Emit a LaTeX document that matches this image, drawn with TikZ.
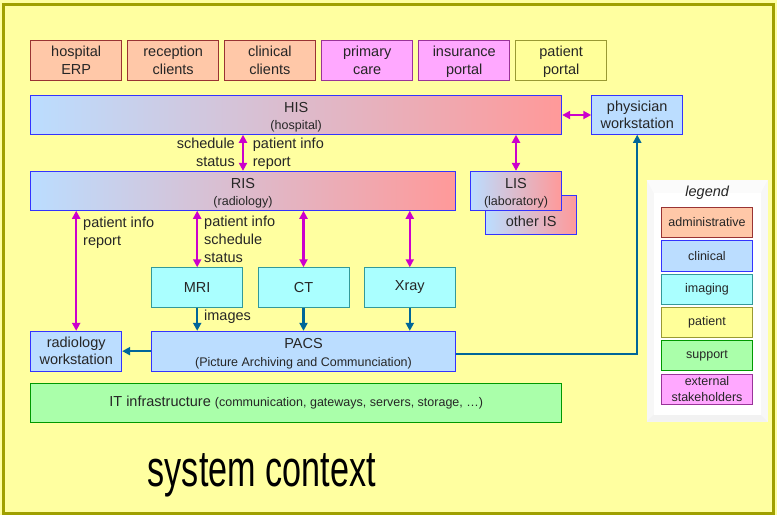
\documentclass[tikz,border=0pt]{standalone}
\usepackage{fontspec}
\setmainfont{Liberation Sans}
\usetikzlibrary{arrows.meta}
\definecolor{bgyellow}{HTML}{FFFFA0}
\definecolor{frameolive}{HTML}{A0A000}
\definecolor{adminfill}{HTML}{FFC8A8}
\definecolor{adminline}{HTML}{993333}
\definecolor{clinfill}{HTML}{BBDDFF}
\definecolor{clinline}{HTML}{3333FF}
\definecolor{imgfill}{HTML}{AAFFFF}
\definecolor{imgline}{HTML}{339999}
\definecolor{patfill}{HTML}{FFFF99}
\definecolor{patline}{HTML}{999933}
\definecolor{supfill}{HTML}{AAFFAA}
\definecolor{supline}{HTML}{009900}
\definecolor{extfill}{HTML}{FFA8FF}
\definecolor{extline}{HTML}{993399}
\definecolor{gradred}{HTML}{FF9999}
\definecolor{flowmag}{HTML}{CC00CC}
\definecolor{flowteal}{HTML}{006699}
\newcommand\smalltxt{\fontsize{12.5}{15}\selectfont}
\newcommand\upstrut{\rule{0pt}{15pt}}
\newcommand\fstrut{\rule{0pt}{13.5pt}}
\newcommand\lstrut{\rule[-3.4pt]{0pt}{3.4pt}}
\newcommand\tl[2]{\fstrut #1\\#2\lstrut}
\newcommand\bx[7]{\node[#6, minimum width={#4-#2}, minimum height={#5-#3}] (#1) at ({(#2+#4)/2},{(#3+#5)/2}) {#7};}
\tikzset{
  box/.style={draw, line width=0.9pt, inner sep=0pt, align=center, text=black!85, font=\fontsize{14.5}{17.5}\selectfont},
  admin/.style={box, fill=adminfill, draw=adminline},
  clin/.style={box, fill=clinfill, draw=clinline},
  img/.style={box, fill=imgfill, draw=imgline},
  pat/.style={box, fill=patfill, draw=patline},
  sup/.style={box, fill=supfill, draw=supline},
  ext/.style={box, fill=extfill, draw=extline},
  grad/.style={box, draw=clinline, left color=clinfill, right color=gradred},
  leg/.style={font=\fontsize{12.5}{16}\selectfont},
  magarrow/.style={draw=flowmag, line width=2.2pt, {Triangle[length=8pt,width=8pt,fill=flowmag]}-{Triangle[length=8pt,width=8pt,fill=flowmag]}},
  tealarrow/.style={draw=flowteal, line width=2.2pt, -{Triangle[length=8pt,width=8pt,fill=flowteal]}},
  lbl/.style={inner sep=0pt, text=black!85, font=\fontsize{14.5}{18}\selectfont},
}
\begin{document}
\begin{tikzpicture}[x=1pt,y=-1pt]
\useasboundingbox (0,0) rectangle (777,515);
\fill[bgyellow] (0,0) rectangle (777,515);
\draw[frameolive, line width=3pt] (3,4) rectangle (773.5,513.5);

% legend panel
\fill[gray!6] (646.7,180) rectangle (767.7,421.7);
\fill[gray!3] (646.7,180) -- (767.7,180) -- (760.7,193) -- (653.7,193) -- cycle;
\fill[gray!10] (646.7,421.7) -- (767.7,421.7) -- (760.7,414.7) -- (653.7,414.7) -- cycle;
\fill[white] (653.7,193) rectangle (760.7,414.7);
\node[lbl, font=\itshape\fontsize{14.5}{17}\selectfont] (legtitle) at (707.2,192.5) {legend};
\bx{lgadmin}{661.3}{207.3}{752.7}{237.7}{admin,leg}{administrative}
\bx{lgclin}{661.3}{240.7}{752.7}{271}{clin,leg}{clinical}
\bx{lgimg}{661.3}{274}{752.7}{304.3}{img,leg}{imaging}
\bx{lgpat}{661.3}{307.3}{752.7}{337.3}{pat,leg}{patient}
\bx{lgsup}{661.3}{340.7}{752.7}{370.7}{sup,leg}{support}
\bx{lgext}{661.3}{374}{752.7}{404}{ext,leg}{external\\stakeholders}

% top row
\bx{erp}{30.7}{40.5}{121.7}{80.3}{admin}{\tl{hospital}{ERP}}
\bx{recep}{127.7}{40.5}{218.7}{80.3}{admin}{\tl{reception}{clients}}
\bx{clinc}{224.3}{40.5}{315.3}{80.3}{admin}{\tl{clinical}{clients}}
\bx{prim}{321.7}{40.5}{412.7}{80.3}{ext}{\tl{primary}{care}}
\bx{ins}{418.7}{40.5}{509.7}{80.3}{ext}{\tl{insurance}{portal}}
\bx{ppt}{515.7}{40.5}{606.7}{80.3}{pat}{\tl{patient}{portal}}

\bx{HIS}{30.7}{95.7}{561.7}{134.3}{grad}{\upstrut HIS\\{\smalltxt (hospital)}}
\bx{phys}{591.7}{95.7}{682.7}{134.3}{clin}{\tl{physician}{workstation}}
\bx{RIS}{30.7}{171.3}{455.3}{210.3}{grad}{\upstrut RIS\\{\smalltxt (radiology)}}
\bx{other}{485.7}{195.3}{576.7}{234.3}{grad,label={[lbl,yshift=-7pt]center:other IS}}{}
\bx{LIS}{470.3}{171.3}{561.7}{210.3}{grad}{\upstrut LIS\\{\smalltxt (laboratory)}}
\bx{MRI}{151.7}{267.7}{242.7}{307.3}{img}{MRI}
\bx{CT}{258}{267.7}{349}{307.3}{img}{CT}
\bx{Xray}{364.3}{267.7}{455.3}{307.3}{img}{Xray\vphantom{M}}
\bx{PACS}{151.7}{331.3}{455.3}{371}{clin}{\upstrut PACS\\{\smalltxt (Picture Archiving and Communciation)}}
\bx{radws}{30.7}{331.3}{121.7}{371}{clin}{\tl{radiology}{workstation}}
\bx{IT}{30.7}{383.3}{561.7}{422.3}{sup}{IT infrastructure {\smalltxt (communication, gateways, servers, storage, …)}}

% connectors
\coordinate (hisris) at (243,0);
\draw[magarrow] (HIS.east) -- (phys.west);
\draw[magarrow] (HIS.south -| hisris) -- (RIS.north -| hisris);
\draw[magarrow] (HIS.south -| LIS.north) -- (LIS.north);
\draw[magarrow] (RIS.south -| radws.north) -- (radws.north);
\draw[magarrow] (RIS.south -| MRI.north) -- (MRI.north);
\draw[magarrow] (RIS.south -| CT.north) -- (CT.north);
\draw[magarrow] (RIS.south -| Xray.north) -- (Xray.north);
\draw[tealarrow] (MRI.south) -- (MRI.south |- PACS.north);
\draw[tealarrow] (CT.south) -- (CT.south |- PACS.north);
\draw[tealarrow] (Xray.south) -- (Xray.south |- PACS.north);
\draw[tealarrow] (PACS.west) -- (radws.east);
\draw[tealarrow] ([yshift=-3pt]PACS.east) -| (phys.south);

% labels (base anchor = baseline of the last line)
\node[lbl, align=right, anchor=base east] (lblA) at (235,166) {schedule\\status};
\node[lbl, align=left, anchor=base west] (lblB) at (252.7,166) {patient info\\report};
\node[lbl, align=left, anchor=base west] (lblC) at (83,245) {patient info\\report};
\node[lbl, align=left, anchor=base west] (lblD) at (204,262.5) {patient info\\schedule\\status};
\node[lbl, anchor=base west] (lblE) at (204,320.7) {images};

% title
\node[inner sep=0pt, anchor=base, font=\fontsize{51}{60}\selectfont] (title) at (261.7,486.7) {\scalebox{0.67}[1]{system context}};
\end{tikzpicture}
\end{document}
